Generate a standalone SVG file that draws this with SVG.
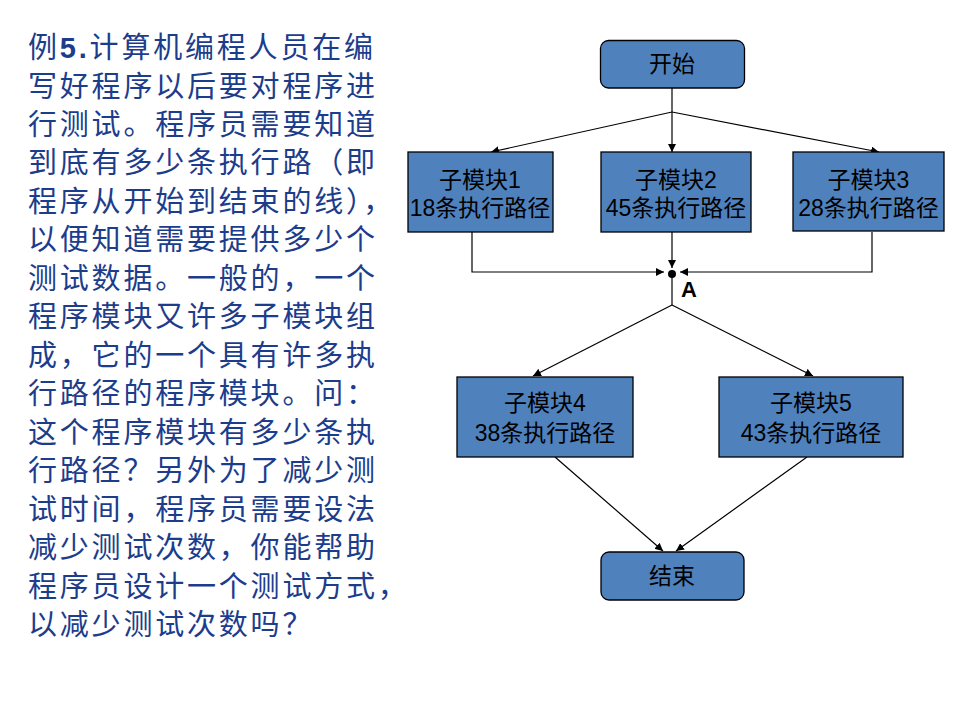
<svg xmlns="http://www.w3.org/2000/svg" width="960" height="720" viewBox="0 0 960 720">
<style>
.q{font-family:"Noto Sans CJK SC","Liberation Sans",sans-serif;font-size:29px;letter-spacing:2.8px;fill:#1c3c8c}
.b{font-family:"Liberation Sans",Arial,sans-serif;font-weight:bold}
.box{fill:#4f81bd;stroke:#000;stroke-width:1.3}
.t{font-family:"Liberation Sans","Noto Sans CJK SC",sans-serif;font-size:23px;fill:#000;text-anchor:middle}
.c{fill:none;stroke:#000;stroke-width:1.2}
</style>
<defs>
<marker id="ar" viewBox="0 0 10 10" refX="10" refY="5" markerWidth="8" markerHeight="8" markerUnits="userSpaceOnUse" orient="auto">
<path d="M0,0 L10,5 L0,10 z" fill="#000"/>
</marker>
</defs>
<rect width="960" height="720" fill="#fff"/>
<g id="question">
<text class="q" x="28" y="58">例<tspan class="b">5.</tspan>计算机编程人员在编</text>
<text class="q" x="28" y="96.5">写好程序以后要对程序进</text>
<text class="q" x="28" y="135">行测试。程序员需要知道</text>
<text class="q" x="28" y="173.4">到底有多少条执行路（即</text>
<text class="q" x="28" y="211.9">程序从开始到结束的线），</text>
<text class="q" x="28" y="250.4">以便知道需要提供多少个</text>
<text class="q" x="28" y="288.8">测试数据。一般的，一个</text>
<text class="q" x="28" y="327.3">程序模块又许多子模块组</text>
<text class="q" x="28" y="365.8">成，它的一个具有许多执</text>
<text class="q" x="28" y="404.2">行路径的程序模块。问：</text>
<text class="q" x="28" y="442.7">这个程序模块有多少条执</text>
<text class="q" x="28" y="481.2">行路径？另外为了减少测</text>
<text class="q" x="28" y="519.6">试时间，程序员需要设法</text>
<text class="q" x="28" y="558.1">减少测试次数，你能帮助</text>
<text class="q" x="28" y="596.6">程序员设计一个测试方式，</text>
<text class="q" x="28" y="635">以减少测试次数吗？</text>
</g>
<g id="connectors">
<path class="c" d="M672,88 V112"/>
<path class="c" d="M672,112 L491,152" marker-end="url(#ar)"/>
<path class="c" d="M672,112 V152" marker-end="url(#ar)"/>
<path class="c" d="M672,112 L879,152" marker-end="url(#ar)"/>
<path class="c" d="M472,232 V272 H664" marker-end="url(#ar)"/>
<path class="c" d="M872,232 V272 H680" marker-end="url(#ar)"/>
<path class="c" d="M672,232 V268" marker-end="url(#ar)"/>
<path class="c" d="M672,274 V305"/>
<path class="c" d="M672,305 L533,376" marker-end="url(#ar)"/>
<path class="c" d="M672,305 L813,376" marker-end="url(#ar)"/>
<path class="c" d="M555,457 L663,551" marker-end="url(#ar)"/>
<path class="c" d="M807,457 L676,551" marker-end="url(#ar)"/>
</g>
<g id="A">
<circle cx="672" cy="274" r="4" fill="#000"/>
<text x="681" y="297" font-family="Liberation Sans,Arial,sans-serif" font-weight="bold" font-size="22">A</text>
</g>
<g id="start">
<rect class="box" x="600.5" y="40.5" width="144" height="47.5" rx="8"/>
<text class="t" x="672" y="72">开始</text>
</g>
<g id="sub1">
<rect class="box" x="408" y="152" width="145" height="80"/>
<text class="t" x="480" y="188">子模块1</text>
<text class="t" x="480" y="216">18条执行路径</text>
</g>
<g id="sub2">
<rect class="box" x="601" y="152" width="150" height="80"/>
<text class="t" x="676" y="188">子模块2</text>
<text class="t" x="676" y="216">45条执行路径</text>
</g>
<g id="sub3">
<rect class="box" x="793" y="152" width="151" height="79"/>
<text class="t" x="868.5" y="188">子模块3</text>
<text class="t" x="868.5" y="216">28条执行路径</text>
</g>
<g id="sub4">
<rect class="box" x="457" y="377" width="176" height="80"/>
<text class="t" x="545" y="411">子模块4</text>
<text class="t" x="545" y="441">38条执行路径</text>
</g>
<g id="sub5">
<rect class="box" x="719" y="377" width="184" height="80"/>
<text class="t" x="811" y="411">子模块5</text>
<text class="t" x="811" y="441">43条执行路径</text>
</g>
<g id="end">
<rect class="box" x="601" y="552" width="143" height="48" rx="8"/>
<text class="t" x="672" y="584">结束</text>
</g>
</svg>
